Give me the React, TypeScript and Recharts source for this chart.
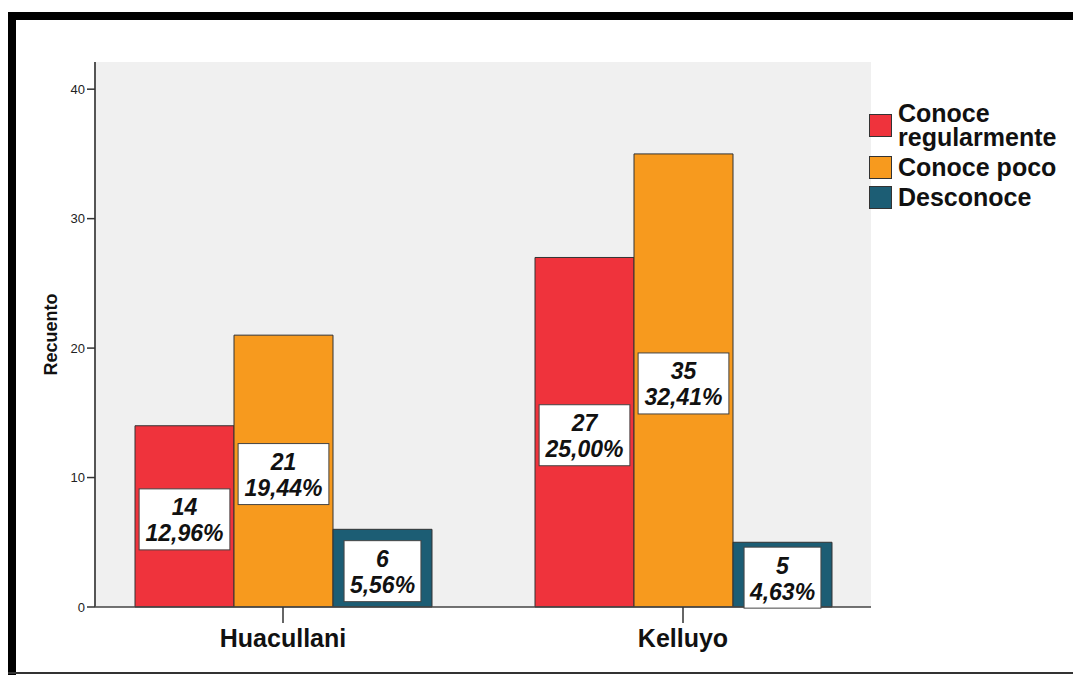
import React from 'react';
import { BarChart, Bar, XAxis, YAxis, CartesianGrid, LabelList } from 'recharts';

const categories = ['Huacullani', 'Kelluyo'];
const seriesNames = ['Conoce regularmente', 'Conoce poco', 'Desconoce'];
const conoceRegularmente = [14, 27];
const conocePoco = [21, 35];
const desconoce = [6, 5];
const seriesColors = ['#ef333c', '#f79a1e', '#1c5d74'];
const yTicks = [0, 10, 20, 30, 40];

const seriesValues = [conoceRegularmente, conocePoco, desconoce];
const total = seriesValues.flat().reduce((a, b) => a + b, 0);

const data = categories.map((name, i) => ({
  name,
  s0: conoceRegularmente[i],
  s1: conocePoco[i],
  s2: desconoce[i],
}));

const FONT = "'Liberation Sans', Arial, sans-serif";

// rough Arial widths (em) for the label box size
const charW = (c: string) => (c === ',' ? 0.278 : c === '%' ? 0.889 : 0.556);

function BoxLabel(props: any) {
  const { x, y, width, height, value } = props;
  const cx = Number(x) + Number(width) / 2;
  const cy = Number(y) + Number(height) / 2 + 3;
  const pct = ((value / total) * 100).toFixed(2).replace('.', ',') + '%';
  const w = pct.split('').reduce((s, c) => s + charW(c), 0) * 25 + 6;
  const h = 61;
  return (
    <g>
      <rect x={cx - w / 2} y={cy - h / 2} width={w} height={h} fill="#fff" stroke="#444" strokeWidth={1} />
      <text x={cx} y={cy - 4} textAnchor="middle" fontFamily={FONT} fontSize={23} fontWeight="bold" fontStyle="italic" fill="#111">
        {value}
      </text>
      <text x={cx} y={cy + 22} textAnchor="middle" fontFamily={FONT} fontSize={23} fontWeight="bold" fontStyle="italic" fill="#111">
        {pct}
      </text>
    </g>
  );
}

function YLabel(props: any) {
  const { viewBox } = props;
  const cy = viewBox.y + viewBox.height / 2;
  const x = viewBox.x + 57;
  return (
    <text x={x} y={cy} transform={`rotate(-90, ${x}, ${cy})`} textAnchor="middle" fontFamily={FONT} fontSize={18} fontWeight="bold" fill="#111">
      Recuento
    </text>
  );
}

export default function App() {
  return (
    <div style={{ position: 'absolute', left: 0, top: 0, width: 1073, height: 675, background: '#fff', fontFamily: FONT }}>
      {/* frame */}
      <div style={{ position: 'absolute', left: 8, top: 12, width: 1065, height: 8, background: '#000' }} />
      <div style={{ position: 'absolute', left: 8, top: 12, width: 8, height: 663, background: '#000' }} />
      <div style={{ position: 'absolute', left: 8, top: 672, width: 1065, height: 2, background: '#333' }} />

      <div style={{ position: 'absolute', left: 0, top: 0 }}>
        <BarChart
          width={1073}
          height={675}
          data={data}
          margin={{ top: 62, right: 202, bottom: 18, left: 0 }}
          barCategoryGap={52}
          barGap={0}
        >
          <CartesianGrid fill="#f0f0f0" horizontal={false} vertical={false} />
          <XAxis
            dataKey="name"
            height={50}
            padding={{ left: -12, right: -12 }}
            tickSize={16}
            tickMargin={6}
            axisLine={{ stroke: '#444', strokeWidth: 1.5 }}
            tickLine={{ stroke: '#333', strokeWidth: 1.5 }}
            tick={{ fontFamily: FONT, fontSize: 25, fontWeight: 'bold', fill: '#111' }}
          />
          <XAxis xAxisId="top" dataKey="name" orientation="top" height={0} tick={false} tickLine={false} axisLine={{ stroke: '#555', strokeWidth: 2 }} />
          <YAxis
            width={95}
            domain={[0, 42.1]}
            ticks={yTicks}
            tickSize={8}
            tickMargin={2}
            axisLine={{ stroke: '#555', strokeWidth: 2 }}
            tickLine={{ stroke: '#333', strokeWidth: 1.5 }}
            tick={{ fontFamily: FONT, fontSize: 13, fill: '#222' }}
            label={<YLabel />}
          />
          <YAxis yAxisId="right" orientation="right" width={0} domain={[0, 42.1]} tick={false} tickLine={false} axisLine={{ stroke: '#555', strokeWidth: 2 }} />
          {seriesNames.map((n, i) => (
            <Bar key={n} dataKey={`s${i}`} name={n} fill={seriesColors[i]} stroke="#333" strokeWidth={1} isAnimationActive={false}>
              <LabelList dataKey={`s${i}`} content={<BoxLabel />} />
            </Bar>
          ))}
        </BarChart>
      </div>

      {/* legend */}
      <div style={{ position: 'absolute', left: 869, top: 101, display: 'flex', flexDirection: 'column', gap: 6 }}>
        {seriesNames.map((n, i) => (
          <div key={n} style={{ display: 'flex', alignItems: 'center' }}>
            <div style={{ width: 21, height: 21, background: seriesColors[i], border: '1px solid #333', flexShrink: 0 }} />
            <div style={{ marginLeft: 6, maxWidth: 168, fontSize: 25, lineHeight: '24px', fontWeight: 'bold', color: '#111' }}>{n}</div>
          </div>
        ))}
      </div>
    </div>
  );
}
